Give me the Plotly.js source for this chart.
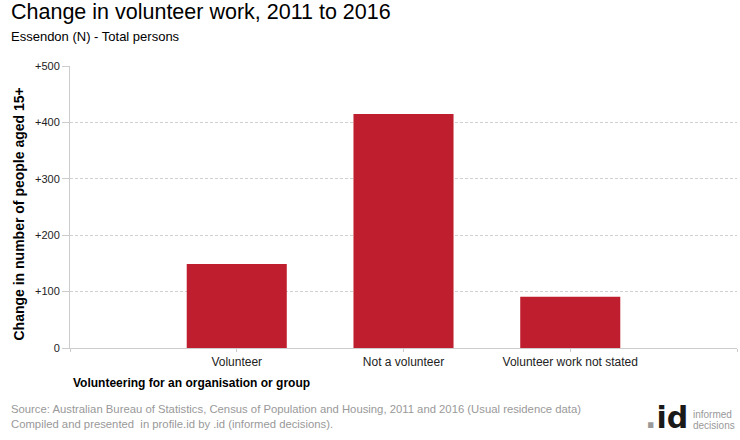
<!DOCTYPE html>
<html>
<head>
<meta charset="utf-8">
<script src="https://cdn.plot.ly/plotly-3.0.1.min.js"></script>
<style>
html,body{margin:0;padding:0;background:#fff;}
#chart{width:740px;height:440px;}
</style>
</head>
<body>
<div id="chart"></div>
<script>
var categories = ["Volunteer", "Not a volunteer", "Volunteer work not stated"];
var changeValues = [149, 415, 91];
var yTickVals = [0, 100, 200, 300, 400, 500];
var yTickText = ["0", "+100", "+200", "+300", "+400", "+500"];

var FONT = "Liberation Sans, Arial, sans-serif";

// category index positions, with an empty slot before the first category
var xPositions = categories.map(function (c, i) { return i; });
var xTickVals = [-1].concat(xPositions).concat([categories.length]);
var xTickText = [""].concat(categories).concat([""]);

var trace = {
  type: "bar",
  x: xPositions,
  y: changeValues,
  width: 0.6,
  marker: {color: "#BF1E2E"},
  hovertext: categories,
  hoverinfo: "text+y"
};

var L = 70, R = 3, T = 66, B = 92;
var pw = 740 - L - R, ph = 440 - T - B;
function px(x){ return (x - L) / pw; }
function py(y){ return (440 - B - y) / ph; }

var layout = {
  width: 740,
  height: 440,
  margin: {l: L, r: R, t: T, b: B, pad: 0},
  paper_bgcolor: "#fff",
  plot_bgcolor: "#fff",
  showlegend: false,
  font: {family: FONT, size: 12, color: "#000"},
  xaxis: {
    range: [-1, categories.length],
    tickmode: "array",
    tickvals: xTickVals,
    ticktext: xTickText,
    showgrid: false,
    showline: true,
    linecolor: "#cccccc",
    linewidth: 1,
    ticks: "outside",
    ticklen: 3,
    tickcolor: "#cccccc",
    tickfont: {family: FONT, size: 12, color: "#222"},
    zeroline: false,
    fixedrange: true
  },
  yaxis: {
    range: [0, 500],
    tickmode: "array",
    tickvals: yTickVals,
    ticktext: yTickText,
    showgrid: true,
    gridcolor: "#d0d0d0",
    griddash: "3px,2px",
    gridwidth: 1,
    showline: true,
    linecolor: "#cccccc",
    ticks: "outside",
    ticklen: 7,
    tickcolor: "#cccccc",
    tickfont: {family: FONT, size: 11, color: "#222"},
    zeroline: false,
    fixedrange: true
  },
  annotations: [
    {text: "Change in volunteer work, 2011 to 2016", xref: "paper", yref: "paper",
     x: px(9), y: py(12), xanchor: "left", yanchor: "middle", showarrow: false,
     font: {family: FONT, size: 21.5, color: "#000"}},
    {text: "Essendon (N) - Total persons", xref: "paper", yref: "paper",
     x: px(9), y: py(37), xanchor: "left", yanchor: "middle", showarrow: false,
     font: {family: FONT, size: 13, color: "#000"}},
    {text: "<b>Change in number of people aged 15+</b>", xref: "paper", yref: "paper",
     x: px(18.5), y: py(214), xanchor: "center", yanchor: "middle", textangle: -90, showarrow: false,
     font: {family: FONT, size: 14, color: "#000"}},
    {text: "<b>Volunteering for an organisation or group</b>", xref: "paper", yref: "paper",
     x: px(71), y: py(383), xanchor: "left", yanchor: "middle", showarrow: false,
     font: {family: FONT, size: 12, color: "#000"}},
    {text: "Source: Australian Bureau of Statistics, Census of Population and Housing, 2011 and 2016 (Usual residence data)<br>Compiled and presented  in profile.id by .id (informed decisions).",
     xref: "paper", yref: "paper", x: px(9), y: py(416), xanchor: "left", yanchor: "middle",
     align: "left", showarrow: false,
     font: {family: FONT, size: 11.3, color: "#999999"}},
    {text: "<b><span style=\"color:#999999\">.</span>id</b>", xref: "paper", yref: "paper",
     x: px(690), y: py(417), xanchor: "right", yanchor: "middle", showarrow: false,
     font: {family: "DejaVu Sans, sans-serif", size: 30, weight: "bold", color: "#1a1a1a"}},
    {text: "informed", xref: "paper", yref: "paper",
     x: px(691), y: py(414), xanchor: "left", yanchor: "middle", showarrow: false,
     font: {family: FONT, size: 10, color: "#999999"}},
    {text: "decisions", xref: "paper", yref: "paper",
     x: px(691), y: py(425), xanchor: "left", yanchor: "middle", showarrow: false,
     font: {family: FONT, size: 10, color: "#999999"}}
  ]
};

Plotly.newPlot("chart", [trace], layout, {displayModeBar: false, staticPlot: true});
</script>
</body>
</html>
